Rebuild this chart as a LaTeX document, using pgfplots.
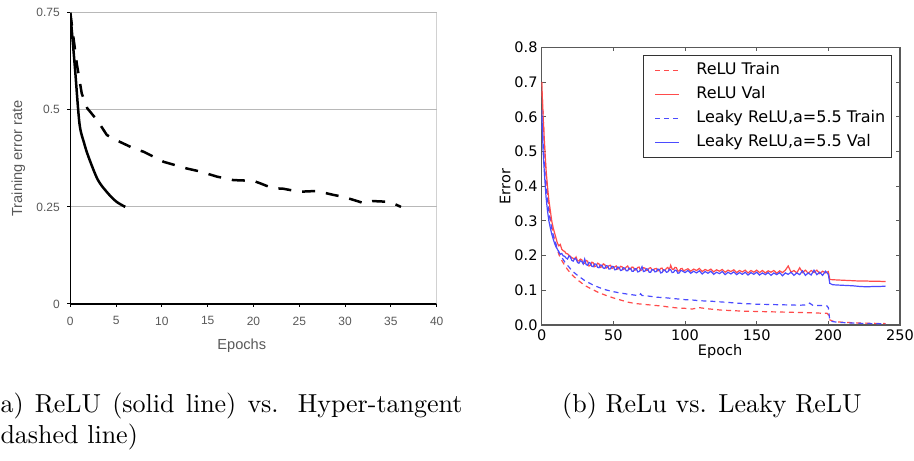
\documentclass[border=0pt]{standalone}
\usepackage{pgfplots}
\pgfplotsset{compat=1.18}
\usepackage{fontspec}
\newfontfamily\arial{Liberation Sans}
\newfontfamily\dejavu{DejaVu Sans}
\definecolor{relured}{RGB}{255,75,75}
\definecolor{leakyblue}{RGB}{75,75,255}

\begin{document}
\begin{tikzpicture}[x=1pt,y=1pt]
\useasboundingbox (0,0) rectangle (914,461);

% left: ReLU vs tanh
\begin{axis}[
    at={(70.3pt,157pt)}, anchor=south west,
    scale only axis, width=366.4pt, height=291.3pt,
    xmin=0, xmax=40, ymin=0, ymax=0.75,
    xtick={0,5,...,40},
    ytick={0,0.25,0.5,0.75}, yticklabels={0,0.25,0.5,0.75},
    axis x line*=bottom, axis y line*=left,
    axis line style={black, line width=1.3pt},
    tick style={black, line width=1pt},
    tick align=outside, major tick length=3pt,
    ymajorgrids, grid style={black!28, line width=1pt},
    /pgf/number format/assume math mode=true,
    ticklabel style={font=\arial\fontsize{12}{14}\selectfont, text=black!65},
    xticklabel style={anchor=north, inner sep=0pt, yshift=-9.5pt},
    yticklabel style={anchor=east, inner sep=0pt, xshift=-7.3pt},
    label style={font=\arial\fontsize{14.6}{17}\selectfont, text=black!65},
    xlabel={Epochs}, ylabel={Training error rate},
    xlabel style={at={(axis description cs:0.468,-0.143)}, anchor=center},
    ylabel style={at={(axis description cs:-0.142,0.5)}, anchor=center},
]
\addplot[black, line width=2.5pt, smooth] coordinates {
    (0,0.75) (0.5,0.61) (1,0.465) (1.5,0.415) (2,0.378) (3,0.32)
    (4,0.288) (5,0.264) (6,0.25)
};
\addplot[black, line width=2.5pt, dash pattern=on 13pt off 11pt] coordinates {
    (0,0.75) (0.7,0.62) (1.25,0.542) (1.85,0.504) (2.9,0.474) (4,0.435)
    (5,0.422) (6.9,0.401) (8,0.392) (10.2,0.366) (12.7,0.349) (14.2,0.341)
    (16,0.328) (17.8,0.319) (20,0.317) (20.7,0.311) (22.1,0.298) (23.2,0.297)
    (25,0.289) (26.9,0.291) (28.7,0.281) (29.8,0.276) (31.6,0.263) (32.1,0.259)
    (33,0.265) (34.9,0.263) (36.1,0.25)
};
\draw[black!28, line width=1pt] (axis cs:40,0) -- (axis cs:40,0.75);
\end{axis}

% right: ReLU vs Leaky ReLU
\begin{axis}[
    at={(541.7pt,136pt)}, anchor=south west,
    scale only axis, width=358.3pt, height=277.7pt,
    xmin=0, xmax=250, ymin=0, ymax=0.8,
    xtick={0,50,...,250}, ytick={0,0.1,...,0.8},
    axis line style={black!65, line width=1.2pt},
    tick style={black!65, line width=0.9pt},
    tick align=inside, major tick length=4pt,
    /pgf/number format/assume math mode=true,
    ticklabel style={font=\dejavu\fontsize{14.5}{17}\selectfont},
    xticklabel style={anchor=north, inner sep=0pt, yshift=-4.5pt},
    yticklabel style={anchor=east, inner sep=0pt, xshift=-4pt,
        /pgf/number format/.cd, fixed, fixed zerofill, precision=1},
    label style={font=\dejavu\fontsize{14.5}{17}\selectfont},
    xlabel={Epoch}, ylabel={Error},
    xlabel style={at={(axis description cs:0.498,-0.096)}, anchor=center},
    ylabel style={at={(axis description cs:-0.102,0.498)}, anchor=center},
    legend cell align=left,
    legend image code/.code={\path (0pt,0pt); \draw[#1, line width=1.3pt] (7.7pt,0pt) -- (31pt,0pt);},
    legend style={at={(1,1)}, anchor=north east, xshift=-8.3pt, yshift=-7.7pt,
        draw=black!80, line width=0.8pt, inner xsep=4pt, inner ysep=5.5pt,
        font=\dejavu\fontsize{16}{19}\selectfont, row sep=5pt,
        nodes={inner xsep=2pt, inner ysep=1.5pt, text height=12pt, text depth=4pt},
        /tikz/every odd column/.append style={column sep=15.3pt}},
]
\addplot[draw=relured, line width=1.2pt, dash pattern=on 5pt off 4pt] coordinates {
    (0,0.70) (1,0.60) (2,0.51) (3,0.44) (4,0.385) (5,0.345) (6,0.31) (7,0.285)
    (8,0.262) (9,0.243) (10,0.228) (12,0.203) (14,0.186) (16,0.172) (18,0.160)
    (20,0.150) (22,0.141) (25,0.130) (30,0.114) (35,0.103) (40,0.093) (45,0.085)
    (50,0.078) (55,0.072) (60,0.066) (65,0.062) (70,0.060) (75,0.058) (80,0.056)
    (85,0.054) (90,0.051) (95,0.049) (100,0.048) (105,0.046) (110,0.050) (115,0.047)
    (120,0.045) (125,0.043) (130,0.042) (140,0.040) (150,0.039) (160,0.038)
    (170,0.037) (180,0.036) (190,0.035) (195,0.034) (199,0.034) (200,0.030)
    (201,0.015) (203,0.011) (206,0.009) (210,0.008) (220,0.006) (230,0.005) (240,0.004)
};
\addlegendentry{ReLU Train}
\addplot[draw=relured, line width=1.2pt] coordinates {
    (0,0.70) (1,0.60) (2,0.52) (3,0.45) (4,0.40) (5,0.36) (6,0.33) (7,0.30)
    (8,0.28) (9,0.265) (10,0.25) (11,0.235) (12,0.228) (13,0.232) (14,0.218)
    (15,0.214) (16,0.212) (17,0.206) (18,0.205) (19,0.201) (20,0.198) (21,0.194)
    (22,0.192) (23,0.189) (24,0.196) (25,0.184) (26,0.185) (27,0.190) (28,0.188)
    (29,0.176) (30,0.178) (31,0.186) (32,0.184) (33,0.170) (34,0.172) (35,0.181)
    (36,0.179) (37,0.168) (38,0.170) (39,0.178) (40,0.176) (41,0.166) (42,0.168)
    (43,0.176) (44,0.174) (45,0.164) (46,0.166) (47,0.171) (48,0.172) (49,0.163)
    (50,0.165) (52,0.170) (53,0.161) (54,0.163) (55,0.169) (56,0.168) (57,0.160)
    (58,0.162) (59,0.167) (60,0.170) (61,0.160) (62,0.161) (63,0.167) (64,0.166)
    (65,0.158) (66,0.160) (67,0.166) (68,0.167) (69,0.157) (70,0.159) (71,0.165)
    (72,0.164) (73,0.157) (74,0.158) (75,0.164) (76,0.165) (77,0.158) (78,0.160)
    (79,0.162) (80,0.163) (81,0.156) (82,0.157) (83,0.163) (84,0.164) (85,0.156)
    (86,0.158) (87,0.163) (88,0.166) (89,0.159) (90,0.172) (91,0.161) (92,0.160)
    (93,0.166) (94,0.165) (95,0.155) (96,0.156) (97,0.162) (98,0.163) (99,0.155)
    (100,0.158) (102,0.162) (104,0.155) (106,0.161) (108,0.157) (110,0.163)
    (112,0.154) (114,0.160) (116,0.156) (118,0.161) (120,0.153) (122,0.159)
    (124,0.155) (126,0.160) (128,0.152) (130,0.158) (132,0.154) (134,0.159)
    (136,0.151) (138,0.157) (140,0.153) (142,0.158) (144,0.150) (146,0.157)
    (148,0.152) (150,0.158) (152,0.151) (154,0.157) (156,0.150) (158,0.156)
    (160,0.152) (162,0.157) (164,0.149) (166,0.156) (168,0.151) (170,0.158)
    (172,0.170) (174,0.152) (176,0.157) (178,0.150) (180,0.165) (182,0.151)
    (184,0.158) (186,0.149) (188,0.157) (190,0.151) (192,0.158) (194,0.148)
    (196,0.155) (198,0.150) (200,0.154) (201,0.131) (205,0.130) (210,0.129)
    (215,0.128) (220,0.127) (225,0.127) (230,0.126) (235,0.126) (240,0.125)
};
\addlegendentry{ReLU Val}
\addplot[draw=leakyblue, line width=1.2pt, dash pattern=on 5pt off 4pt] coordinates {
    (0,0.60) (1,0.52) (2,0.45) (3,0.40) (4,0.36) (5,0.325) (6,0.30) (7,0.278)
    (8,0.26) (9,0.245) (10,0.232) (12,0.21) (14,0.195) (16,0.182) (18,0.172)
    (20,0.162) (22,0.153) (25,0.143) (30,0.128) (35,0.117) (40,0.108) (45,0.101)
    (50,0.096) (55,0.092) (60,0.089) (65,0.086) (68,0.085) (69,0.090) (70,0.085)
    (75,0.083) (80,0.080) (85,0.079) (90,0.077) (95,0.075) (100,0.073) (105,0.072)
    (110,0.070) (120,0.068) (130,0.065) (140,0.062) (150,0.060) (160,0.059)
    (170,0.058) (180,0.057) (185,0.058) (187,0.063) (189,0.057) (195,0.056)
    (199,0.055) (200,0.050) (201,0.013) (203,0.010) (206,0.008) (210,0.007)
    (220,0.005) (230,0.004) (240,0.003)
};
\addlegendentry{Leaky ReLU,a=5.5 Train}
\addplot[draw=leakyblue, line width=1.2pt] coordinates {
    (0,0.62) (1,0.50) (2,0.43) (3,0.37) (4,0.33) (5,0.30) (6,0.28) (7,0.262)
    (8,0.248) (9,0.235) (10,0.225) (11,0.218) (12,0.210) (13,0.204) (14,0.206)
    (15,0.199) (16,0.198) (17,0.193) (18,0.190) (19,0.199) (20,0.196) (21,0.186)
    (22,0.184) (23,0.192) (24,0.190) (25,0.180) (26,0.178) (27,0.185) (28,0.183)
    (29,0.176) (30,0.190) (31,0.174) (32,0.172) (33,0.180) (34,0.178) (35,0.169)
    (36,0.168) (37,0.176) (38,0.175) (39,0.166) (40,0.165) (41,0.173) (42,0.172)
    (43,0.164) (44,0.163) (45,0.171) (46,0.170) (47,0.161) (48,0.162) (49,0.169)
    (50,0.168) (51,0.159) (52,0.160) (53,0.167) (54,0.166) (55,0.157) (56,0.158)
    (57,0.165) (58,0.164) (59,0.156) (60,0.156) (61,0.164) (62,0.163) (63,0.155)
    (64,0.155) (65,0.162) (66,0.162) (67,0.153) (68,0.154) (69,0.160) (70,0.168)
    (71,0.154) (72,0.155) (73,0.162) (74,0.161) (75,0.152) (76,0.152) (77,0.160)
    (78,0.159) (79,0.153) (80,0.154) (81,0.161) (82,0.160) (83,0.150) (84,0.151)
    (85,0.159) (86,0.158) (87,0.152) (88,0.153) (89,0.160) (90,0.159) (91,0.151)
    (92,0.152) (93,0.158) (94,0.157) (95,0.149) (96,0.150) (97,0.157) (98,0.156)
    (100,0.151) (102,0.157) (104,0.149) (106,0.155) (108,0.150) (110,0.156)
    (112,0.147) (114,0.154) (116,0.149) (118,0.155) (120,0.146) (122,0.152)
    (124,0.148) (126,0.154) (128,0.145) (130,0.152) (132,0.147) (134,0.153)
    (136,0.145) (138,0.151) (140,0.146) (142,0.152) (144,0.144) (146,0.151)
    (148,0.146) (150,0.152) (152,0.144) (154,0.150) (156,0.145) (158,0.151)
    (160,0.143) (162,0.150) (164,0.145) (166,0.151) (168,0.142) (170,0.150)
    (172,0.146) (174,0.152) (176,0.143) (178,0.150) (180,0.145) (182,0.156)
    (184,0.143) (186,0.150) (188,0.144) (190,0.158) (192,0.145) (194,0.152)
    (196,0.143) (198,0.155) (200,0.146) (201,0.120) (203,0.116) (207,0.115)
    (212,0.114) (217,0.113) (222,0.111) (227,0.110) (232,0.111) (236,0.111) (240,0.112)
};
\addlegendentry{Leaky ReLU,a=5.5 Val}
\end{axis}

% captions
\node[anchor=base west, inner sep=0pt, text width=177.7pt, align=justify,
      font=\fontsize{10}{11.54}\selectfont, scale=2.6] at (0,48)
    {a) ReLU (solid line) vs. Hyper-tangent dashed line)};
\node[anchor=base west, inner sep=0pt, font=\fontsize{10}{11.54}\selectfont, scale=2.6]
    at (561.7,48) {(b) ReLu vs. Leaky ReLU};
\end{tikzpicture}
\end{document}
